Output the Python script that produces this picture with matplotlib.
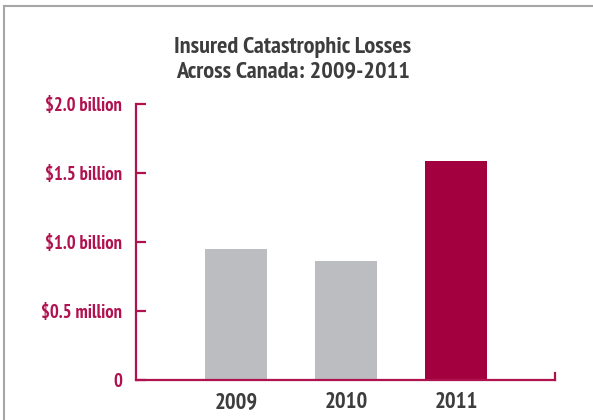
import matplotlib.pyplot as plt
from matplotlib.lines import Line2D

years = ["2009", "2010", "2011"]
losses = [0.95, 0.86, 1.59]  # billions
bar_colors = ["#BCBDC0", "#BCBDC0", "#A3003F"]
ytick_vals = [0, 0.5, 1.0, 1.5, 2.0]
ytick_labels = ["0", "$0.5 million", "$1.0 billion", "$1.5 billion", "$2.0 billion"]

AXIS_COL = "#B0124F"
TEXT_COL = "#3D3D3D"
plt.rcParams['font.family'] = ['PT Sans Narrow', 'DejaVu Sans']

fig = plt.figure(figsize=(5.93, 4.2), dpi=100)
ax = fig.add_axes([136/593, 1-380/420, 419/593, 276/420])

x = range(len(years))
ax.bar(x, losses, width=0.565, color=bar_colors)

ax.set_xlim(-0.909, 2.9)
ax.set_ylim(0, 2.0)

for s in ["top", "right"]:
    ax.spines[s].set_visible(False)
for s in ["left", "bottom"]:
    ax.spines[s].set_color(AXIS_COL)
    ax.spines[s].set_linewidth(1.6)

ax.set_yticks(ytick_vals)
ax.set_yticklabels(ytick_labels)
ax.tick_params(axis="y", direction="in", length=7.5, width=1.6, color=AXIS_COL,
               labelcolor=AXIS_COL, labelsize=13.4, pad=10)
for lab in ax.get_yticklabels():
    lab.set_fontweight("bold")

ax.set_xticks(list(x))
ax.set_xticklabels(years)
ax.tick_params(axis="x", length=0, labelcolor=TEXT_COL, labelsize=16.3, pad=9)
for lab in ax.get_xticklabels():
    lab.set_fontweight("bold")

# little end tick on the right of the baseline
ax.axvline(ax.get_xlim()[1], ymin=0, ymax=0.026, color=AXIS_COL, lw=1.6, clip_on=False)

fig.text(0.494, 0.857, "Insured Catastrophic Losses\nAcross Canada: 2009-2011",
         ha="center", va="center", fontsize=17.5, fontweight="bold",
         color=TEXT_COL, linespacing=1.25)

# frame around the graphic (left and top only)
fig.add_artist(Line2D([4/593, 4/593], [0, 1-6/420], transform=fig.transFigure,
                      color="#A6A6A6", lw=1.5))
fig.add_artist(Line2D([4/593, 1], [1-6/420, 1-6/420], transform=fig.transFigure,
                      color="#A6A6A6", lw=1.5))

fig.savefig("out.png", dpi=100)
